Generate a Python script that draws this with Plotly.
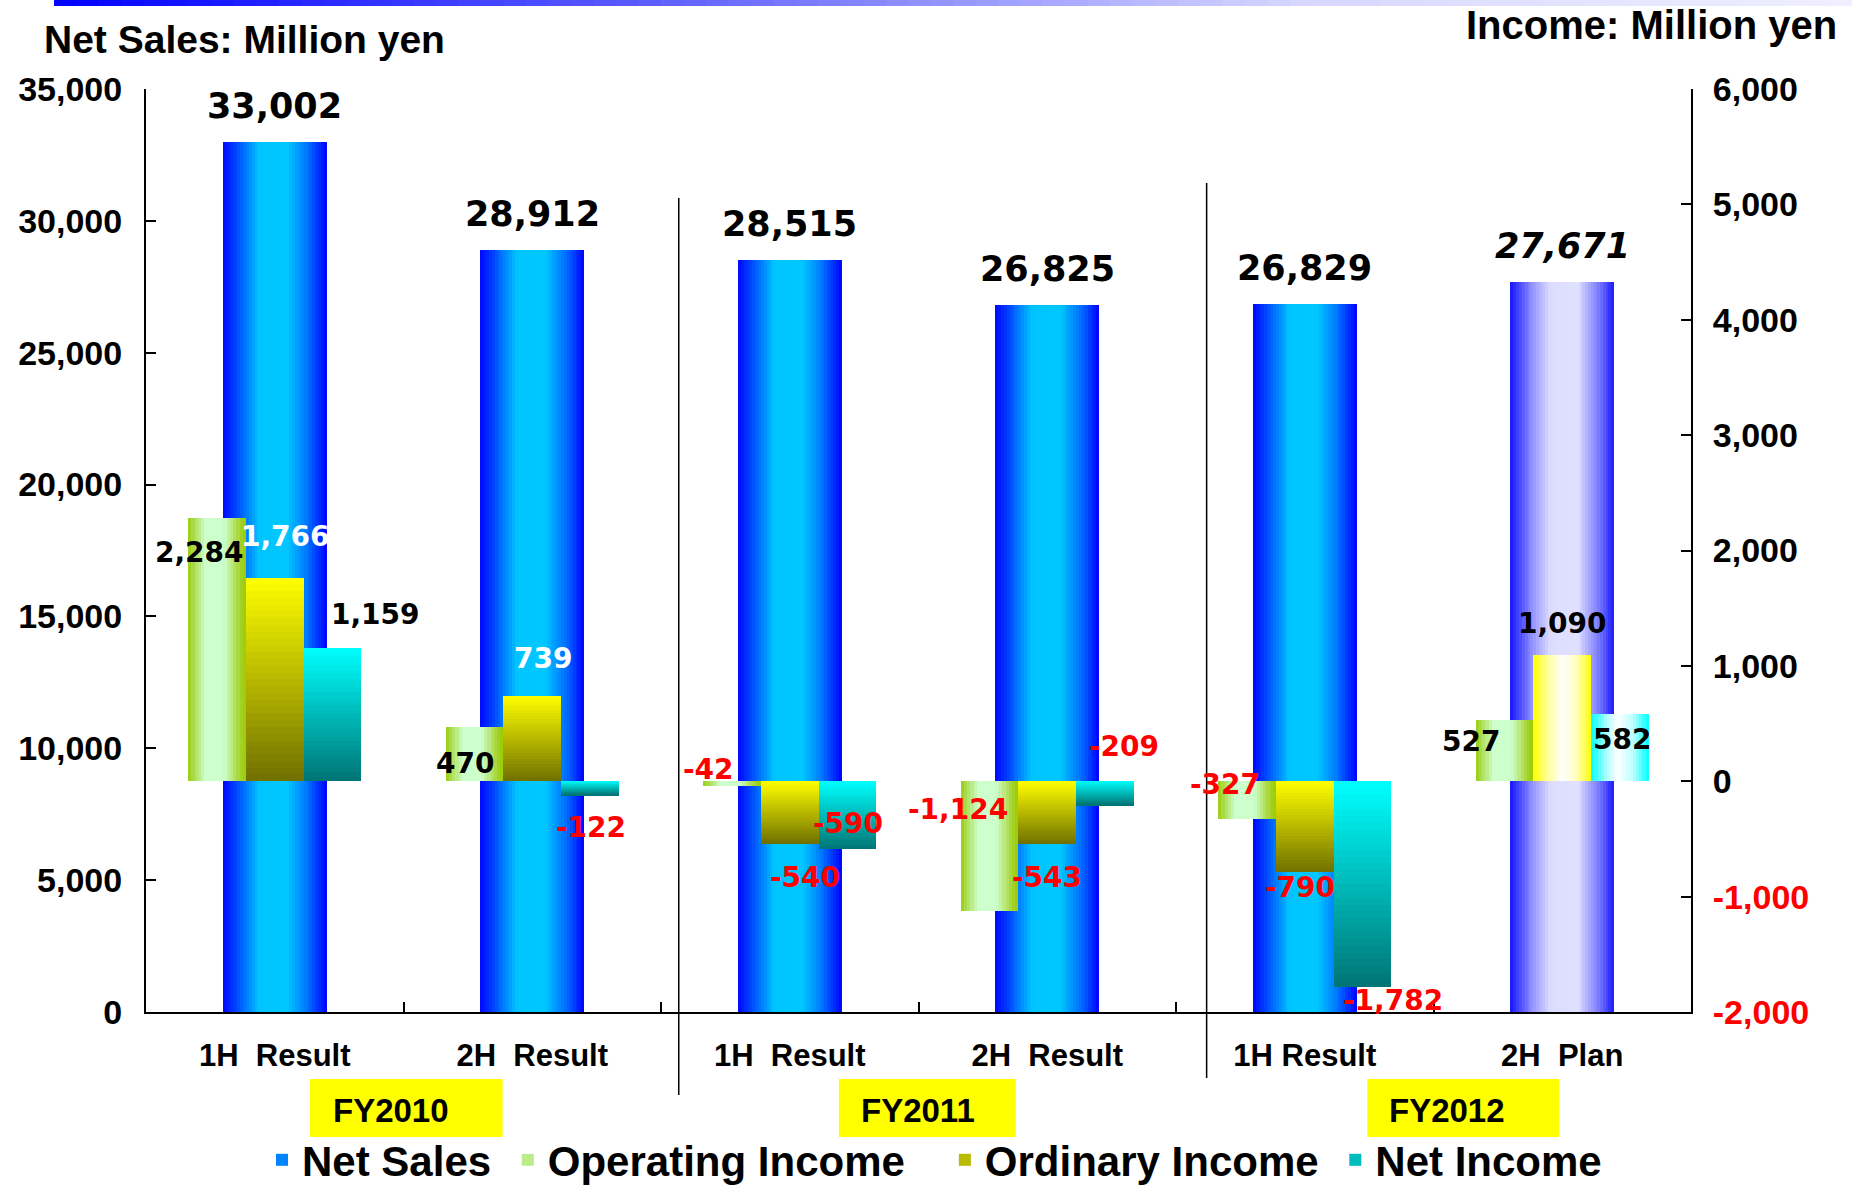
import plotly.graph_objects as go

# ---------------- data ----------------
periods = ["1H\u00a0\u00a0Result", "2H\u00a0\u00a0Result", "1H\u00a0\u00a0Result",
           "2H\u00a0\u00a0Result", "1H\u00a0Result", "2H\u00a0\u00a0Plan"]
fiscal_years = ["FY2010", "FY2011", "FY2012"]
net_sales = [33002, 28912, 28515, 26825, 26829, 27671]
operating_income = [2284, 470, -42, -1124, -327, 527]
ordinary_income = [1766, 739, -540, -543, -790, 1090]
net_income = [1159, -122, -590, -209, -1782, 582]
is_plan = [False, False, False, False, False, True]
sales_ticks = [0, 5000, 10000, 15000, 20000, 25000, 30000, 35000]
income_ticks = [-2000, -1000, 0, 1000, 2000, 3000, 4000, 5000, 6000]

# ---------------- styling ----------------
W, H = 1852, 1186
M_L, M_R, M_T, M_B = 146, 161, 89, 174
PLOT_W, PLOT_H = W - M_L - M_R, H - M_T - M_B

BOLD = "Liberation Sans, Arial, sans-serif"
LABEL = "DejaVu Sans, Verdana, sans-serif"
RED = "#ff0000"
NBSP = "\u00a0"

SALES_SCALE = [(0, "#0008ff"), (0.12, "#0040ff"), (0.35, "#00c4ff"), (0.62, "#00c8ff"),
               (0.82, "#0070ff"), (1, "#0000ff")]
SALES_PLAN_SCALE = [(0, "#1414ff"), (0.2, "#8c8cff"), (0.38, "#dcdcff"), (0.65, "#e0e0ff"),
                    (0.85, "#7a7aff"), (1, "#1a1aff")]
OP_SCALE = [(0, "#99cc11"), (0.3, "#ccffcc"), (0.62, "#ccffcc"), (0.9, "#a5d22a"), (1, "#99cc00")]
ORD_SCALE = [(0, "#ffff00"), (1, "#707000")]
ORD_PLAN_SCALE = [(0, "#ffff00"), (0.25, "#ffff99"), (0.5, "#ffffff"), (0.75, "#ffffbb"), (1, "#ffff00")]
NET_SCALE = [(0, "#00ffff"), (1, "#007474")]
NET_PLAN_SCALE = [(0, "#00ffff"), (0.25, "#a0ffff"), (0.45, "#ffffff"), (0.72, "#c0ffff"), (1, "#00ffff")]
BAND_SCALE = [(0, "#0000ff"), (0.315, "#5858ff"), (0.69, "#d6d6ff"), (1, "#f0f0ff")]

SALES_WIDTH = 0.404
INC_WIDTH = 0.224
INC_CENTERS = {"op": -0.224, "ord": 0.0, "net": 0.224}


def _rgb(h):
    h = h.lstrip("#")
    return tuple(int(h[i:i + 2], 16) for i in (0, 2, 4))


def color_at(stops, t):
    t = max(0.0, min(1.0, t))
    for (t0, c0), (t1, c1) in zip(stops, stops[1:]):
        if t <= t1:
            f = 0.0 if t1 == t0 else (t - t0) / (t1 - t0)
            a, b = _rgb(c0), _rgb(c1)
            return "rgb(%d,%d,%d)" % tuple(round(a[k] + (b[k] - a[k]) * f) for k in range(3))
    return stops[-1][1]


def px_x(px):
    return (px - M_L) / PLOT_W


def px_y(py):
    return (H - M_B - py) / PLOT_H


x = list(range(len(periods)))
fig = go.Figure()


def add_h_strips(values, center, width, scales, n, yaxis, mask, name, legend_strip, label):
    """Bar drawn as n side-by-side slices to give a left-to-right gradient."""
    step = width / n
    right = center + width / 2
    ys = [v if m else None for v, m in zip(values, mask)]
    for j in range(n):
        off = center - width / 2 + j * step
        w = min(step * 1.6, right - off)
        t = (j + 0.5) / n
        fig.add_trace(go.Bar(
            x=x, y=ys, offset=off, width=w, yaxis=yaxis, name=label,
            marker=dict(color=[color_at(s, t) for s in scales], line=dict(width=0)),
            showlegend=(j == legend_strip), legendgroup=name, hoverinfo="skip"))


def add_v_strips(values, center, width, scale, n, yaxis, mask, name, legend_strip, label):
    """Bar drawn as n stacked pieces to give a top-to-bottom gradient."""
    for k in range(n):
        base, ys, cols = [], [], []
        for v, m in zip(values, mask):
            if not m:
                base.append(None); ys.append(None); cols.append("#000000")
                continue
            base.append(v * k / n)
            ys.append(v * min(1.4, n - k) / n)
            t = 1 - (k + 0.5) / n if v >= 0 else (k + 0.5) / n
            cols.append(color_at(scale, t))
        fig.add_trace(go.Bar(
            x=x, y=ys, base=base, offset=center - width / 2, width=width, yaxis=yaxis,
            name=label, marker=dict(color=cols, line=dict(width=0)),
            showlegend=(k == legend_strip), legendgroup=name, hoverinfo="skip"))


all_pts = [True] * len(periods)
actual = [not p for p in is_plan]

# legend captions (trailing spaces widen the gap to the next entry)
leg_sales = "Net Sales" + NBSP
leg_op = "Operating Income" + NBSP * 3
leg_ord = "Ordinary Income" + NBSP
leg_net = "Net Income"

# Net Sales (left axis)
add_h_strips(net_sales, 0.0, SALES_WIDTH,
             [SALES_PLAN_SCALE if p else SALES_SCALE for p in is_plan],
             36, "y", all_pts, "sales", 8, leg_sales)
# Operating income (right axis)
add_h_strips(operating_income, INC_CENTERS["op"], INC_WIDTH,
             [OP_SCALE for _ in is_plan], 18, "y2", all_pts, "op", 3, leg_op)
# Ordinary income
add_v_strips(ordinary_income, INC_CENTERS["ord"], INC_WIDTH, ORD_SCALE, 30, "y2",
             actual, "ord", 15, leg_ord)
add_h_strips(ordinary_income, INC_CENTERS["ord"], INC_WIDTH,
             [ORD_PLAN_SCALE for _ in is_plan], 18, "y2", is_plan, "ord", -1, leg_ord)
# Net income
add_v_strips(net_income, INC_CENTERS["net"], INC_WIDTH, NET_SCALE, 30, "y2",
             actual, "net", 15, leg_net)
add_h_strips(net_income, INC_CENTERS["net"], INC_WIDTH,
             [NET_PLAN_SCALE for _ in is_plan], 18, "y2", is_plan, "net", -1, leg_net)

# ---------------- value labels ----------------
annotations = []
for i, v in enumerate(net_sales):
    annotations.append(dict(
        x=i, y=v, xref="x", yref="y", text=f"{v:,}", showarrow=False, yshift=36,
        xanchor="center", yanchor="middle",
        font=dict(family=LABEL, size=35, color="black", weight="bold",
                  style="italic" if is_plan[i] else "normal")))

# pixel nudges for each income label (op, ord, net per period)
label_nudge = {
    "op": [(-18, -35), (-10, -36), (-24, 17), (-32, 101), (-22, 34), (-34, -21)],
    "ord": [(11, 41), (11, 37), (15, -34), (0, -34), (-5, -15), (0, 32)],
    "net": [(43, 33), (1, -32), (1, 26), (19, 59), (31, -14), (2, -25)],
}
white_labels = {("ord", 0), ("ord", 1)}
for key, series in (("op", operating_income), ("ord", ordinary_income), ("net", net_income)):
    for i, v in enumerate(series):
        dx, dy = label_nudge[key][i]
        if v < 0:
            col = RED
        elif (key, i) in white_labels:
            col = "white"
        else:
            col = "black"
        annotations.append(dict(
            x=i + INC_CENTERS[key], y=v, xref="x", yref="y2", text=f"{v:,}",
            showarrow=False, xshift=dx, yshift=dy, xanchor="center", yanchor="middle",
            font=dict(family=LABEL, size=28, color=col, weight="bold")))

# axis unit captions
annotations.append(dict(x=px_x(42), y=px_y(40), xref="paper", yref="paper",
                        xanchor="left", yanchor="middle", showarrow=False,
                        text="Net Sales: Million yen",
                        font=dict(family=BOLD, size=39, color="black", weight="bold")))
annotations.append(dict(x=px_x(1839), y=px_y(25), xref="paper", yref="paper",
                        xanchor="right", yanchor="middle", showarrow=False,
                        text="Income: Million yen",
                        font=dict(family=BOLD, size=40, color="black", weight="bold")))

# fiscal-year tags under the period labels
fy_boxes = [(0.137, 0.885), (2.191, 2.878), (4.243, 4.988)]
fy_text_x = [0.4495, 2.498, 4.551]
shapes = []
for (x0, x1), tx, fy in zip(fy_boxes, fy_text_x, fiscal_years):
    shapes.append(dict(type="rect", xref="x", yref="paper", x0=x0, x1=x1,
                       y0=px_y(1137), y1=px_y(1079), fillcolor="#ffff00",
                       line=dict(width=0), layer="above"))
    annotations.append(dict(x=tx, y=px_y(1110), xref="x", yref="paper", text=fy,
                            showarrow=False, xanchor="center", yanchor="middle",
                            font=dict(family=BOLD, size=33, color="black", weight="bold")))

# fiscal-year separators
for sx, top, bottom in ((1.569, 198, 1095), (3.619, 183, 1078)):
    shapes.append(dict(type="line", xref="x", yref="paper", x0=sx, x1=sx,
                       y0=px_y(bottom), y1=px_y(top), line=dict(color="black", width=1.5)))

# decorative gradient rule along the top edge
n_band = 80
band_l, band_r = 54, W
for k in range(n_band):
    bx0 = band_l + (band_r - band_l) * k / n_band
    bx1 = band_l + (band_r - band_l) * (k + 1) / n_band + 1
    shapes.append(dict(type="rect", xref="paper", yref="paper",
                       x0=px_x(bx0), x1=px_x(bx1), y0=px_y(6), y1=px_y(0),
                       fillcolor=color_at(BAND_SCALE, (k + 0.5) / n_band),
                       line=dict(width=0)))

income_ticktext = [f"<span style='color:{RED}'>{v:,}</span>" if v < 0 else f"{v:,}"
                   for v in income_ticks]

fig.update_layout(
    width=W, height=H,
    margin=dict(l=M_L, r=M_R, t=M_T, b=M_B, autoexpand=False),
    paper_bgcolor="white", plot_bgcolor="white",
    barmode="overlay", bargap=0, hovermode=False,
    showlegend=True,
    legend=dict(orientation="h", x=px_x(262), xanchor="left", y=px_y(1160), yanchor="middle",
                font=dict(family=BOLD, size=42, color="black", weight="bold"),
                bgcolor="rgba(0,0,0,0)", itemclick=False, itemdoubleclick=False,
                traceorder="normal"),
    xaxis=dict(range=[-0.5, len(periods) - 0.5], tickmode="array", tickvals=x,
               ticktext=periods, ticks="", showgrid=False, zeroline=False,
               showline=True, linecolor="black", linewidth=2,
               ticklabelstandoff=15,
               tickfont=dict(family=BOLD, size=31, color="black", weight="bold"),
               minor=dict(tickmode="array", tickvals=[i + 0.5 for i in x[:-1]],
                          ticks="inside", ticklen=10, tickwidth=2, tickcolor="black",
                          showgrid=False)),
    yaxis=dict(range=[0, 35000], tickmode="array", tickvals=sales_ticks,
               ticktext=[f"{v:,}" for v in sales_ticks], ticks="inside", ticklen=10,
               tickwidth=2, tickcolor="black", showgrid=False, zeroline=False,
               showline=True, linecolor="black", linewidth=2, ticklabelstandoff=15,
               tickfont=dict(family=BOLD, size=34, color="black", weight="bold")),
    yaxis2=dict(range=[-2000, 6000], overlaying="y", side="right", tickmode="array",
                tickvals=income_ticks, ticktext=income_ticktext, ticks="inside",
                ticklen=10, tickwidth=2, tickcolor="black", showgrid=False,
                zeroline=False, showline=True, linecolor="black", linewidth=2,
                ticklabelstandoff=13,
                tickfont=dict(family=BOLD, size=34, color="black", weight="bold")),
    annotations=annotations,
    shapes=shapes,
)

fig.write_html("out.html")
